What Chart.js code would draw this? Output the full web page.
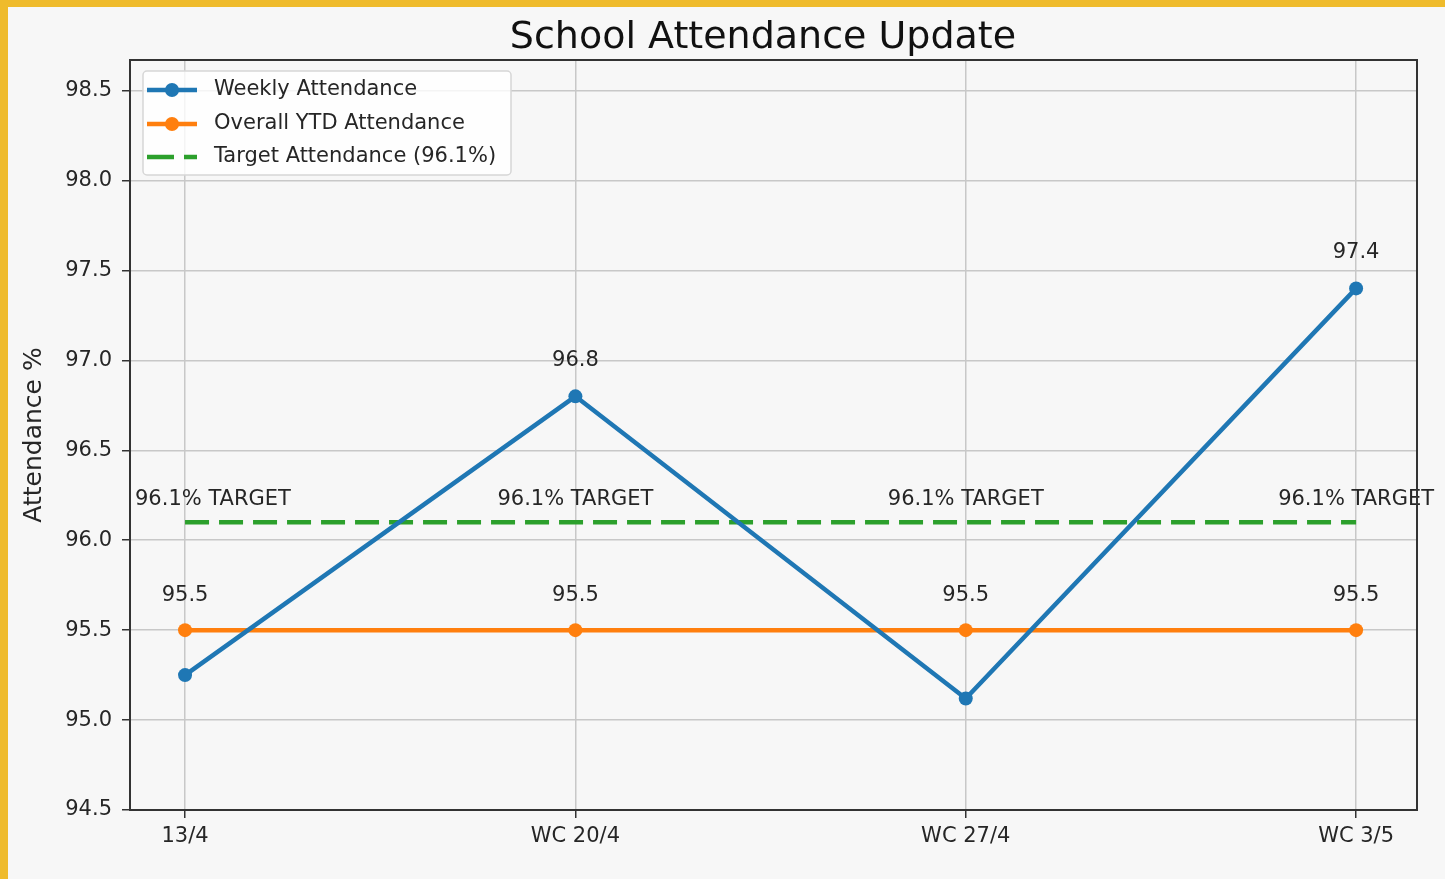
<!doctype html>
<html lang="en">
<head>
  <meta charset="utf-8" />
  <title>School Attendance Update</title>
  <style>
    html, body {
      margin: 0;
      padding: 0;
      background: #f7f7f7;
    }
    .frame {
      width: 1437px;
      height: 872px;
      border-left: 8px solid #efbb2c;
      border-top: 7px solid #efbb2c;
      background: #f7f7f7;
    }
    canvas { display: block; }
  </style>
</head>
<body>
  <div class="frame">
    <canvas id="attChart" width="1437" height="872"></canvas>
  </div>

  <script src="https://cdn.jsdelivr.net/npm/chart.js"></script>
  <script>
    // 数据（从图上读出来的）
    const weeks = ["13/4", "WC 20/4", "WC 27/4", "WC 3/5"];
    const weekly = [95.25, 96.8, 95.12, 97.4];
    const ytd = [95.5, 95.5, 95.5, 95.5];
    const target = [96.1, 96.1, 96.1, 96.1];
    const weeklyShown = [false, true, false, true]; // 图上只有两个点标了数值
    const yTicks = [94.5, 95.0, 95.5, 96.0, 96.5, 97.0, 97.5, 98.0, 98.5];
    const targetLabel = "96.1% TARGET";

    const BLUE = "#1f77b4";
    const ORANGE = "#ff7f0e";
    const GREEN = "#2ca02c";
    const TEXT = "#262626";
    const FONT = "'DejaVu Sans', 'Liberation Sans', sans-serif";

    function pts(arr) {
      return arr.map((v, i) => ({ x: i, y: v }));
    }

    // 标题、数值标签、图例、边框都自己画
    const decor = {
      id: "decor",
      beforeDraw(chart) {
        const c = chart.ctx;
        c.save();
        c.fillStyle = "#f7f7f7";
        c.fillRect(0, 0, chart.width, chart.height);
        c.restore();
      },
      afterDatasetsDraw(chart) {
        const c = chart.ctx;
        const area = chart.chartArea;
        const xs = chart.scales.x;
        const ys = chart.scales.y;

        c.save();
        c.font = "21px " + FONT;
        c.fillStyle = TEXT;
        c.textAlign = "center";
        c.textBaseline = "alphabetic";

        // 周数值
        weekly.forEach((v, i) => {
          if (!weeklyShown[i]) return;
          c.fillText(v.toFixed(1), xs.getPixelForValue(i), ys.getPixelForValue(v) - 30);
        });
        // YTD 数值
        ytd.forEach((v, i) => {
          c.fillText(v.toFixed(1), xs.getPixelForValue(i), ys.getPixelForValue(v) - 29);
        });
        // 目标标签（左边不超出坐标轴）
        target.forEach((v, i) => {
          const w = c.measureText(targetLabel).width;
          let cx = xs.getPixelForValue(i);
          if (cx - w / 2 < area.left + 5) cx = area.left + 5 + w / 2;
          c.fillText(targetLabel, cx, ys.getPixelForValue(v) - 17);
        });

        // 边框
        c.strokeStyle = "#333333";
        c.lineWidth = 2;
        c.strokeRect(area.left, area.top, area.right - area.left, area.bottom - area.top);

        // 图例
        const bx = area.left + 13, by = area.top + 11, bw = 368, bh = 104;
        c.beginPath();
        c.roundRect(bx, by, bw, bh, 4);
        c.fillStyle = "rgba(255,255,255,0.8)";
        c.fill();
        c.strokeStyle = "#d6d6d6";
        c.lineWidth = 1.5;
        c.stroke();

        const items = [
          { text: "Weekly Attendance", color: BLUE, marker: true, dash: [] },
          { text: "Overall YTD Attendance", color: ORANGE, marker: true, dash: [] },
          { text: "Target Attendance (96.1%)", color: GREEN, marker: false, dash: [27, 10] }
        ];
        const rows = [19, 53, 86];
        items.forEach((it, k) => {
          const ry = by + rows[k];
          c.beginPath();
          c.setLineDash(it.dash);
          c.strokeStyle = it.color;
          c.lineWidth = 4.5;
          c.moveTo(bx + 4, ry);
          c.lineTo(bx + 54, ry);
          c.stroke();
          c.setLineDash([]);
          if (it.marker) {
            c.beginPath();
            c.arc(bx + 29, ry, 7, 0, Math.PI * 2);
            c.fillStyle = it.color;
            c.fill();
          }
          c.fillStyle = TEXT;
          c.textAlign = "left";
          c.textBaseline = "middle";
          c.font = "21px " + FONT;
          c.fillText(it.text, bx + 71, ry);
        });

        // 标题
        c.fillStyle = "#111111";
        c.textAlign = "center";
        c.textBaseline = "alphabetic";
        c.font = "38px " + FONT;
        c.fillText("School Attendance Update", 755, 41);
        c.restore();
      }
    };

    const gridOpts = {
      color: "#c8c8c8",
      lineWidth: 1.5,
      tickColor: "#333333",
      tickLength: 8,
      drawTicks: true
    };

    new Chart(document.getElementById("attChart"), {
      type: "line",
      data: {
        datasets: [
          {
            label: "Weekly Attendance",
            data: pts(weekly),
            borderColor: BLUE,
            backgroundColor: BLUE,
            borderWidth: 4.5,
            pointRadius: 7,
            pointHoverRadius: 7,
            pointBorderWidth: 0,
            tension: 0,
            order: 1
          },
          {
            label: "Overall YTD Attendance",
            data: pts(ytd),
            borderColor: ORANGE,
            backgroundColor: ORANGE,
            borderWidth: 4.5,
            pointRadius: 7,
            pointHoverRadius: 7,
            pointBorderWidth: 0,
            tension: 0,
            order: 2
          },
          {
            label: "Target Attendance (96.1%)",
            data: pts(target),
            borderColor: GREEN,
            backgroundColor: GREEN,
            borderWidth: 4.5,
            borderDash: [24, 10],
            pointRadius: 0,
            tension: 0,
            order: 3
          }
        ]
      },
      options: {
        responsive: false,
        animation: false,
        layout: { padding: { left: 0, top: 53, right: 28, bottom: 0 } },
        plugins: {
          legend: { display: false },
          title: { display: false },
          tooltip: { enabled: false }
        },
        scales: {
          x: {
            type: "linear",
            min: -0.141,
            max: 3.156,
            afterBuildTicks(scale) {
              scale.ticks = weeks.map((w, i) => ({ value: i }));
            },
            afterFit(scale) { scale.height = 69; },
            ticks: {
              callback: (v) => weeks[v],
              color: TEXT,
              font: { family: FONT, size: 21 },
              padding: 6,
              maxRotation: 0
            },
            grid: gridOpts,
            border: { display: false }
          },
          y: {
            min: 94.5,
            max: 98.67,
            afterBuildTicks(scale) {
              scale.ticks = yTicks.map(v => ({ value: v }));
            },
            afterFit(scale) { scale.width = 122; },
            ticks: {
              callback: (v) => Number(v).toFixed(1),
              color: TEXT,
              font: { family: FONT, size: 21 },
              padding: 10
            },
            grid: gridOpts,
            border: { display: false },
            title: {
              display: true,
              text: "Attendance %",
              color: TEXT,
              font: { family: FONT, size: 25 },
              padding: { top: 11, bottom: 0 }
            }
          }
        }
      },
      plugins: [decor]
    });
  </script>
</body>
</html>
